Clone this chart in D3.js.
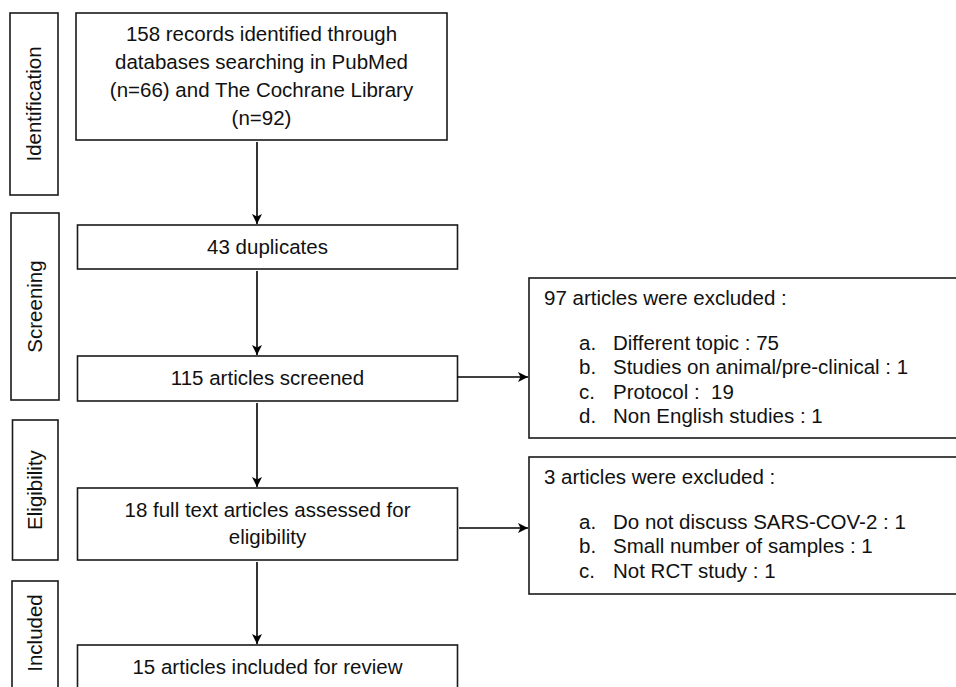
<!DOCTYPE html>
<html>
<head>
<meta charset="utf-8">
<script src="https://cdn.jsdelivr.net/npm/d3@7/dist/d3.min.js"></script>
<style>
  html, body { margin: 0; padding: 0; background: #fff; }
  svg { display: block; }
  text { font-family: "Liberation Sans", Arial, Helvetica, sans-serif; fill: #111; }
</style>
</head>
<body>
<svg id="chart" width="956" height="687"></svg>
<script>
// ---------- data ----------
const phases = ["Identification", "Screening", "Eligibility", "Included"];
const sourceNames = ["PubMed", "The Cochrane Library"];
const sourceCounts = [66, 92];
const stepCounts = [158, 43, 115, 18, 15];
const stepLabels = [
  ["158 records identified through", "databases searching in PubMed", "(n=66) and The Cochrane Library", "(n=92)"],
  ["43 duplicates"],
  ["115 articles screened"],
  ["18 full text articles assessed for", "eligibility"],
  ["15 articles included for review"]
];
const screenExclTotal = 97;
const screenExclReasons = ["Different topic", "Studies on animal/pre-clinical", "Protocol", "Non English studies"];
const screenExclCounts = [75, 1, 19, 1];
const eligExclTotal = 3;
const eligExclReasons = ["Do not discuss SARS-COV-2", "Small number of samples", "Not RCT study"];
const eligExclCounts = [1, 1, 1];
const itemLetters = ["a.", "b.", "c.", "d."];

// ---------- layout ----------
const svg = d3.select("#chart");
const fontSize = 20.5;
const lineH = 27.7;
const listH = 24.5;
const stroke = "#1a1a1a";

const phaseBoxes = [
  {y0: 13, y1: 195, x0: 10, x1: 58},
  {y0: 213, y1: 400, x0: 11, x1: 59},
  {y0: 420, y1: 560, x0: 12.5, x1: 58},
  {y0: 581, y1: 700, x0: 12, x1: 58}
];
const stepBoxes = [
  {x0: 76, x1: 447, y0: 13, y1: 140},
  {x0: 77.5, x1: 457.5, y0: 225, y1: 269},
  {x0: 77.5, x1: 457.5, y0: 356, y1: 401},
  {x0: 77.5, x1: 457.5, y0: 488, y1: 560},
  {x0: 77.5, x1: 457.5, y0: 645, y1: 700}
];
const exclBoxes = [
  {x0: 529, x1: 970, y0: 278, y1: 438, from: 2},
  {x0: 529, x1: 970, y0: 457, y1: 594, from: 3}
];
const arrowX = 257;

// arrow marker
svg.append("defs").append("marker")
  .attr("id", "arrow")
  .attr("viewBox", "0 0 10 10")
  .attr("refX", 10).attr("refY", 5)
  .attr("markerWidth", 10).attr("markerHeight", 10)
  .attr("markerUnits", "userSpaceOnUse")
  .attr("orient", "auto")
  .append("path")
  .attr("d", "M0,0 L10,5 L0,10 L2.5,5 Z")
  .attr("fill", "#000");

// phase label boxes
const pg = svg.append("g").selectAll("g").data(phases).join("g");
pg.append("rect")
  .attr("x", (d, i) => phaseBoxes[i].x0)
  .attr("y", (d, i) => phaseBoxes[i].y0)
  .attr("width", (d, i) => phaseBoxes[i].x1 - phaseBoxes[i].x0)
  .attr("height", (d, i) => phaseBoxes[i].y1 - phaseBoxes[i].y0)
  .attr("fill", "#fff").attr("stroke", stroke).attr("stroke-width", 1.6);
pg.append("text")
  .attr("transform", (d, i) => {
    const b = phaseBoxes[i];
    const cy = i === 3 ? 633 : (b.y0 + b.y1) / 2;
    return `translate(${(b.x0 + b.x1) / 2 + 7},${cy}) rotate(-90)`;
  })
  .attr("text-anchor", "middle")
  .style("font-size", fontSize + "px")
  .text(d => d);

// step boxes
const sg = svg.append("g").selectAll("g").data(stepLabels).join("g");
sg.append("rect")
  .attr("x", (d, i) => stepBoxes[i].x0)
  .attr("y", (d, i) => stepBoxes[i].y0)
  .attr("width", (d, i) => stepBoxes[i].x1 - stepBoxes[i].x0)
  .attr("height", (d, i) => (i === 4 ? 45 : stepBoxes[i].y1 - stepBoxes[i].y0))
  .attr("fill", "#fff").attr("stroke", stroke).attr("stroke-width", 1.6);
sg.each(function(lines, i) {
  const b = stepBoxes[i];
  const cx = (b.x0 + b.x1) / 2;
  const cy = (b.y0 + (i === 4 ? b.y0 + 45 : b.y1)) / 2;
  d3.select(this).selectAll("text").data(lines).join("text")
    .attr("x", cx)
    .attr("y", (l, j) => cy + (j - (lines.length - 1) / 2) * lineH + 6.5)
    .attr("text-anchor", "middle")
    .style("font-size", fontSize + "px")
    .text(l => l);
});

// vertical arrows
const vArrows = d3.range(stepBoxes.length - 1).map(i => ({y0: stepBoxes[i].y1 + 2, y1: stepBoxes[i + 1].y0 - 1}));
svg.append("g").selectAll("line").data(vArrows).join("line")
  .attr("x1", arrowX).attr("x2", arrowX)
  .attr("y1", d => d.y0).attr("y2", d => d.y1)
  .attr("stroke", "#000").attr("stroke-width", 1.6)
  .attr("marker-end", "url(#arrow)");

// exclusion boxes
const exclData = [
  {total: screenExclTotal, reasons: screenExclReasons, counts: screenExclCounts, arrowY: 377, ax0: 457.5},
  {total: eligExclTotal, reasons: eligExclReasons, counts: eligExclCounts, arrowY: 528, ax0: 459}
];
const eg = svg.append("g").selectAll("g").data(exclData).join("g");
eg.append("rect")
  .attr("x", (d, i) => exclBoxes[i].x0)
  .attr("y", (d, i) => exclBoxes[i].y0)
  .attr("width", (d, i) => exclBoxes[i].x1 - exclBoxes[i].x0)
  .attr("height", (d, i) => exclBoxes[i].y1 - exclBoxes[i].y0)
  .attr("fill", "#fff").attr("stroke", stroke).attr("stroke-width", 1.6);
eg.append("line")
  .attr("x1", d => d.ax0).attr("x2", (d, i) => exclBoxes[i].x0 - 1)
  .attr("y1", d => d.arrowY).attr("y2", d => d.arrowY)
  .attr("stroke", "#000").attr("stroke-width", 1.6)
  .attr("marker-end", "url(#arrow)");
eg.append("text")
  .attr("x", (d, i) => exclBoxes[i].x0 + 15)
  .attr("y", (d, i) => exclBoxes[i].y0 + 27)
  .style("font-size", fontSize + "px")
  .text(d => `${d.total} articles were excluded :`);
eg.each(function(d, i) {
  const b = exclBoxes[i];
  const items = d.reasons.map((r, j) => ({letter: itemLetters[j], text: r === "Protocol" ? `${r} :  ${d.counts[j]}` : `${r} : ${d.counts[j]}`, j}));
  const g = d3.select(this);
  g.selectAll("text.letter").data(items).join("text").attr("class", "letter")
    .attr("x", b.x0 + 50)
    .attr("y", it => b.y0 + 71.5 + it.j * listH)
    .style("font-size", fontSize + "px")
    .text(it => it.letter);
  g.selectAll("text.item").data(items).join("text").attr("class", "item")
    .attr("x", b.x0 + 84)
    .attr("y", it => b.y0 + 71.5 + it.j * listH)
    .style("font-size", fontSize + "px")
    .style("white-space", "pre")
    .attr("xml:space", "preserve")
    .text(it => it.text);
});
</script>
</body>
</html>
